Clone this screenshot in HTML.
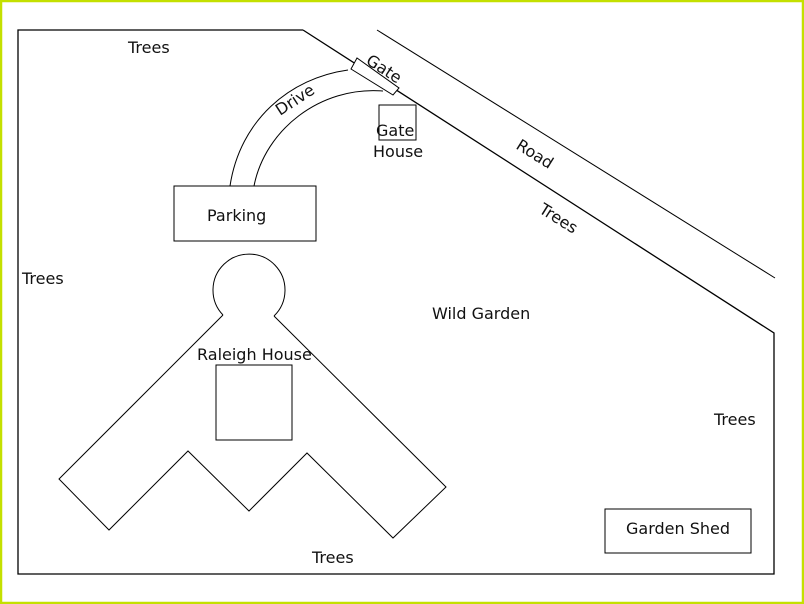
<!DOCTYPE html>
<html><head><meta charset="utf-8"><style>
html,body{margin:0;padding:0;background:#fff}
svg{display:block}
text{font-family:"DejaVu Sans","Liberation Sans",sans-serif;font-size:16px;fill:#111}
</style></head><body>
<svg width="804" height="604" viewBox="0 0 804 604" xmlns="http://www.w3.org/2000/svg">
<rect x="1" y="1" width="802" height="602" fill="#fff" stroke="#c4e000" stroke-width="2.5"/>
<g fill="none" stroke="#000" stroke-width="1">
<polyline points="303,30 18,30 18,574 774,574 774,333 303,30" stroke-width="1.3"/>
<line x1="377" y1="30" x2="775" y2="278"/>
<rect x="174" y="186" width="142" height="55"/>
<path d="M230 186 C 240 120, 290 78, 348 70"/>
<path d="M254 186 C 265 130, 320 86, 383 91"/>
<polygon points="351,69 357,58 399,88 393,95" fill="#fff"/>
<rect x="379" y="105" width="37" height="35"/>
<path d="M223 315 A 36 36 0 1 1 274 316"/>
<polyline points="223,315 59,479 109,530 188,451 249,511 307,453 393,538 446,487 274,316"/>
<rect x="216" y="365" width="76" height="75"/>
<rect x="605" y="509" width="146" height="44"/>
</g>
<text x="128" y="53">Trees</text>
<text x="22" y="284">Trees</text>
<text x="207" y="221">Parking</text>
<text x="376" y="136">Gate</text>
<text x="373" y="157">House</text>
<text x="197" y="360">Raleigh House</text>
<text x="432" y="319">Wild Garden</text>
<text x="714" y="425">Trees</text>
<text x="626" y="534">Garden Shed</text>
<text x="312" y="563">Trees</text>
<text transform="translate(280,116) rotate(-33)">Drive</text>
<text transform="translate(365,63) rotate(33)">Gate</text>
<text transform="translate(515,148) rotate(32)">Road</text>
<text transform="translate(538,212) rotate(32)">Trees</text>
</svg>
</body></html>
